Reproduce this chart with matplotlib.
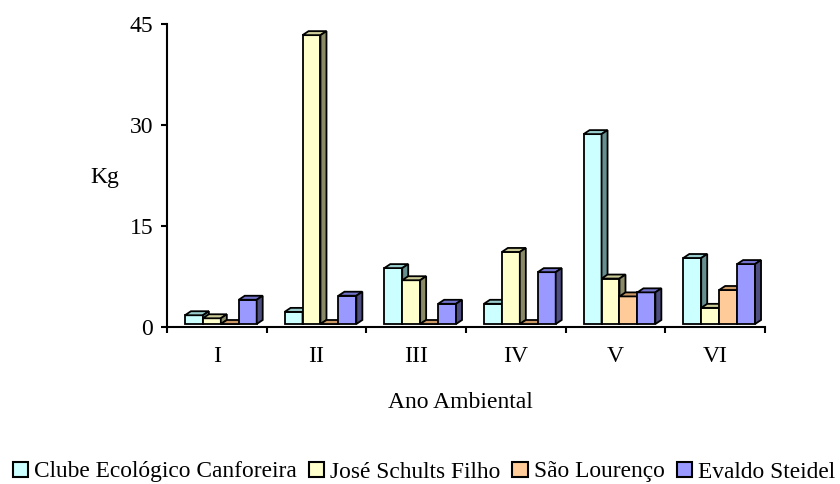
import matplotlib
matplotlib.use("Agg")
import matplotlib.pyplot as plt
from matplotlib.patches import Polygon, Patch
import numpy as np

categories = ["I", "II", "III", "IV", "V", "VI"]
series_names = ["Clube Ecológico Canforeira", "José Schults Filho", "São Lourenço", "Evaldo Steidel"]
clube = [1.3, 1.8, 8.3, 3.0, 28.2, 9.8]
jose = [0.85, 42.9, 6.5, 10.7, 6.75, 2.4]
sao = [0.0, 0.0, 0.0, 0.0, 4.1, 5.05]
evaldo = [3.6, 4.2, 3.0, 7.7, 4.7, 8.9]
yticks = [0, 15, 30, 45]

series = [clube, jose, sao, evaldo]
face_c = ["#CCFFFF", "#FFFFCC", "#FFCC99", "#9999FF"]
top_c = ["#99CCCC", "#CCCC99", "#CC9966", "#7373CC"]
side_c = ["#668F8F", "#8A8A66", "#8C6A4A", "#4D4D80"]

plt.rcParams['font.family'] = ['Liberation Serif', 'DejaVu Serif']
FS = 17
LFS = 16.8

W, H = 840, 484
fig = plt.figure(figsize=(W / 100, H / 100), dpi=100)
ax_l, ax_r, ax_t, ax_b = 167, 765, 24, 327
ax = fig.add_axes([ax_l / W, 1 - ax_b / H, (ax_r - ax_l) / W, (ax_b - ax_t) / H])
ax.set_xlim(-0.5, len(categories) - 0.5)
ax.set_ylim(0, 45)

# pixel -> data conversions
px_x = (ax_r - ax_l) / (len(categories))
px_y = (ax_b - ax_t) / 45.0
dx = 6 / px_x
dy = 4 / px_y
lift = 3 / px_y

bw = 0.18
start = -0.32
x = np.arange(len(categories))
lw = 1.3
z = 3
for gi in range(len(categories)):
    for si, vals in enumerate(series):
        x0 = x[gi] + start + si * bw
        v = vals[gi]
        y0 = lift
        y1 = lift + v
        ax.bar(x0, v, width=bw, bottom=lift, align='edge', facecolor=face_c[si],
               edgecolor='black', linewidth=lw, zorder=z)
        topp = Polygon([(x0, y1), (x0 + bw, y1), (x0 + bw + dx, y1 + dy), (x0 + dx, y1 + dy)],
                       closed=True, facecolor=top_c[si], edgecolor='black', linewidth=lw,
                       zorder=z + 0.1, joinstyle='miter')
        sidep = Polygon([(x0 + bw, y0), (x0 + bw, y1), (x0 + bw + dx, y1 + dy), (x0 + bw + dx, y0 + dy)],
                        closed=True, facecolor=side_c[si], edgecolor='black', linewidth=lw,
                        zorder=z + 0.1, joinstyle='miter')
        ax.add_patch(topp)
        ax.add_patch(sidep)
        z += 0.5

for s in ['top', 'right']:
    ax.spines[s].set_visible(False)
for s in ['left', 'bottom']:
    ax.spines[s].set_linewidth(1.5)
    ax.spines[s].set_zorder(100)

ax.set_yticks(yticks)
ax.set_yticklabels([str(t) for t in yticks], fontsize=FS)
ax.tick_params(axis='y', direction='out', length=4, width=1.5, pad=6)

ax.set_xticks(np.arange(-0.5, len(categories), 1.0))
ax.set_xticklabels([])
ax.set_xticks(x, minor=True)
ax.set_xticklabels(categories, minor=True, fontsize=FS)
ax.tick_params(axis='x', which='major', direction='out', length=4, width=1.5)
ax.tick_params(axis='x', which='minor', length=0, pad=14)

ax.set_ylabel("Kg", rotation=0, fontsize=FS, va='center', ha='center')
ax.yaxis.set_label_coords((105 - ax_l) / (ax_r - ax_l), (ax_b - 178) / (ax_b - ax_t))
ax.set_xlabel("Ano Ambiental", fontsize=FS, va='center')
ax.xaxis.set_label_coords((460 - ax_l) / (ax_r - ax_l), (ax_b - 403) / (ax_b - ax_t))

handles = [Patch(facecolor=c, edgecolor='black', linewidth=1.5) for c in face_c]
fig.legend(handles, series_names, loc='center', bbox_to_anchor=(424 / W, 1 - 472 / H),
           ncol=4, frameon=False, fontsize=LFS, handlelength=0.65, handleheight=0.65,
           handletextpad=0.28, columnspacing=0.5, borderpad=0)

fig.savefig("out.png", dpi=100)
